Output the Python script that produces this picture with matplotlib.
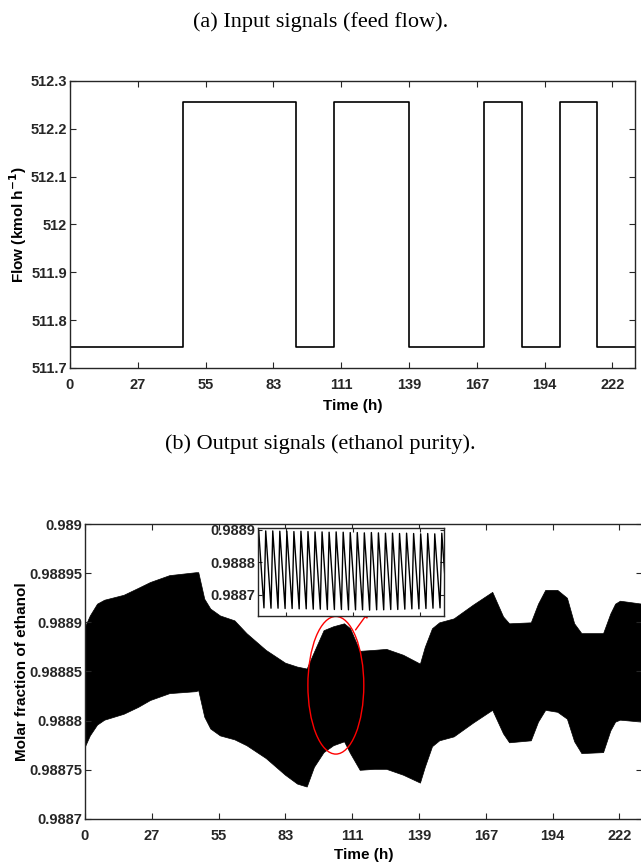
import numpy as np
import matplotlib
matplotlib.use('Agg')
import matplotlib.pyplot as plt
from matplotlib.patches import Ellipse

# (a) feed flow step signal
switch_t = [0, 46.2, 92.4, 107.8, 138.6, 169.4, 184.8, 200.2, 215.6, 231.0]
flow_lvl = [511.743, 512.257, 511.743, 512.257, 511.743, 512.257, 511.743, 512.257, 511.743, 511.743]

# (b) ethanol purity band (envelope of the fast oscillation)
band_t = [0, 2, 5, 8, 16, 22, 27, 35, 46, 47, 49.5, 52, 56, 62, 67, 75, 83, 88, 92,
          95, 99, 103, 107.5, 110, 114, 120, 125, 132, 139, 141, 144, 147, 153, 161,
          169, 173.5, 176, 185, 188, 191, 196, 200, 203, 206, 215, 218, 220, 222, 231]
band_hi = [0.988896, 0.988907, 0.988919, 0.988923, 0.988928, 0.988935, 0.988941, 0.988948,
           0.988951, 0.988951, 0.988924, 0.988914, 0.988907, 0.988902, 0.988889, 0.988872,
           0.988859, 0.988855, 0.988853, 0.988870, 0.988892, 0.988896, 0.988899, 0.988894,
           0.988871, 0.988872, 0.988873, 0.988867, 0.988858, 0.988875, 0.988894, 0.988900,
           0.988904, 0.988918, 0.988931, 0.988906, 0.988899, 0.988900, 0.988919, 0.988933,
           0.988933, 0.988925, 0.988899, 0.988889, 0.988889, 0.988909, 0.988919, 0.988922,
           0.988919]
band_lo = [0.988774, 0.988785, 0.988796, 0.988801, 0.988807, 0.988814, 0.988821, 0.988828,
           0.988830, 0.988831, 0.988804, 0.988792, 0.988785, 0.988781, 0.988775, 0.988762,
           0.988745, 0.988736, 0.988733, 0.988753, 0.988768, 0.988775, 0.988779, 0.988767,
           0.988750, 0.988751, 0.988751, 0.988745, 0.988737, 0.988753, 0.988774, 0.988780,
           0.988784, 0.988798, 0.988811, 0.988787, 0.988778, 0.988780, 0.988799, 0.988811,
           0.988809, 0.988802, 0.988779, 0.988767, 0.988768, 0.988790, 0.988799, 0.988801,
           0.988799]

# zoomed detail of the oscillation (inset)
tooth_peak = [0.988898, 0.988897, 0.988897, 0.988896, 0.988896, 0.988895, 0.988896, 0.988895,
              0.988894, 0.988894, 0.988893, 0.988894, 0.988893, 0.988892, 0.988892, 0.988891,
              0.988892, 0.988891, 0.988890, 0.988890, 0.988889, 0.988890, 0.988889, 0.988888,
              0.988889, 0.988888, 0.988890]
tooth_low = [0.988660, 0.988659, 0.988659, 0.988658, 0.988658, 0.988657, 0.988657, 0.988656,
             0.988656, 0.988655, 0.988655, 0.988655, 0.988654, 0.988654, 0.988654, 0.988653,
             0.988654, 0.988654, 0.988655, 0.988655, 0.988656, 0.988657, 0.988657, 0.988658,
             0.988659, 0.988660, 0.988660]
tooth_period = 0.1045
tooth_start = 103.6

xtick_lbl = ['0', '27', '55', '83', '111', '139', '167', '194', '222']
flow_ticks = [511.7, 511.8, 511.9, 512.0, 512.1, 512.2, 512.3]
flow_lbl = ['511.7', '511.8', '511.9', '512', '512.1', '512.2', '512.3']
frac_ticks = [0.9887, 0.98875, 0.9888, 0.98885, 0.9889, 0.98895, 0.989]
frac_lbl = ['0.9887', '0.98875', '0.9888', '0.98885', '0.9889', '0.98895', '0.989']
inset_ticks = [0.9887, 0.9888, 0.9889]

plt.rcParams['font.family'] = ['Liberation Sans', 'DejaVu Sans']
plt.rcParams['font.weight'] = 'bold'
plt.rcParams['axes.linewidth'] = 1.0
plt.rcParams['axes.edgecolor'] = '#262626'

fig = plt.figure(figsize=(6.41, 8.66), dpi=100)
xmax = 231.0
xticks = [k * xmax / 8.333 for k in range(9)]


def style_axes(ax):
    ax.tick_params(direction='in', top=True, right=True, length=4, width=0.8,
                   labelsize=10.5, colors='#262626', labelcolor='#262626')
    ax.tick_params(axis='x', pad=7)
    ax.tick_params(axis='y', pad=2)
    for lab in ax.get_xticklabels() + ax.get_yticklabels():
        lab.set_fontweight('bold')


# --- (a) input signal
ax1 = fig.add_axes([0.1092, 0.5751, 0.8814, 0.3314])
ax1.step(switch_t, flow_lvl, where='post', color='k', lw=1.2)
ax1.set_xlim(0, xmax)
ax1.set_ylim(511.7, 512.3)
ax1.set_xticks(xticks)
ax1.set_xticklabels(xtick_lbl)
ax1.set_yticks(flow_ticks)
ax1.set_yticklabels(flow_lbl)
ax1.set_xlabel('Time (h)', fontsize=11, fontweight='bold')
ax1.set_ylabel('Flow (kmol h$^{\\mathbf{-1}}$)', fontsize=11, fontweight='bold')
ax1.xaxis.set_label_coords(0.5, -0.108)
ax1.yaxis.set_label_coords(-0.073, 0.5)
style_axes(ax1)

# --- (b) output signal
ax2 = fig.add_axes([0.1326, 0.0543, 0.8684, 0.3406])
ax2.fill_between(band_t, band_lo, band_hi, color='k', lw=0.5, edgecolor='k')
ax2.set_xlim(0, xmax)
ax2.set_ylim(0.9887, 0.989)
ax2.set_xticks(xticks)
ax2.set_xticklabels(xtick_lbl)
ax2.set_yticks(frac_ticks)
ax2.set_yticklabels(frac_lbl)
ax2.set_xlabel('Time (h)', fontsize=11, fontweight='bold')
ax2.set_ylabel('Molar fraction of ethanol', fontsize=11, fontweight='bold')
ax2.xaxis.set_label_coords(0.5, -0.1)
ax2.yaxis.set_label_coords(-0.1, 0.5)
style_axes(ax2)

ax2.add_patch(Ellipse((104.1, 0.988836), 23.2, 0.00014, fill=False, edgecolor='red', lw=1.0))
ax2.annotate('', xy=(118.4, 0.988913), xytext=(111.6, 0.98889),
             arrowprops=dict(arrowstyle='-|>', color='red', lw=1.0, mutation_scale=8))

# inset
ax3 = fig.add_axes([0.4025, 0.2887, 0.2902, 0.1016])
ins_t = []
ins_v = []
for i in range(len(tooth_peak)):
    t0 = tooth_start + i * tooth_period
    ins_t += [t0, t0 + 0.75 * tooth_period]
    ins_v += [tooth_peak[i], tooth_low[i]]
ax3.plot(ins_t, ins_v, color='k', lw=1.0)
ax3.set_xlim(103.59, 106.35)
ax3.set_ylim(0.988635, 0.988906)
ax3.set_xticks([104, 105, 106])
ax3.set_xticklabels([])
ax3.set_yticks(inset_ticks)
ax3.set_yticklabels(['0.9887', '0.9888', '0.9889'])
ax3.tick_params(direction='in', top=True, right=True, length=3, width=0.8,
                labelsize=10.5, pad=2, colors='#262626')
for lab in ax3.get_yticklabels():
    lab.set_fontweight('bold')

fig.text(0.5, 0.975, '(a) Input signals (feed flow).', ha='center', va='center',
         fontsize=16, fontweight='normal', family=['Liberation Serif', 'DejaVu Serif'])
fig.text(0.5, 0.487, '(b) Output signals (ethanol purity).', ha='center', va='center',
         fontsize=16, fontweight='normal', family=['Liberation Serif', 'DejaVu Serif'])

fig.savefig('out.png', dpi=100)
